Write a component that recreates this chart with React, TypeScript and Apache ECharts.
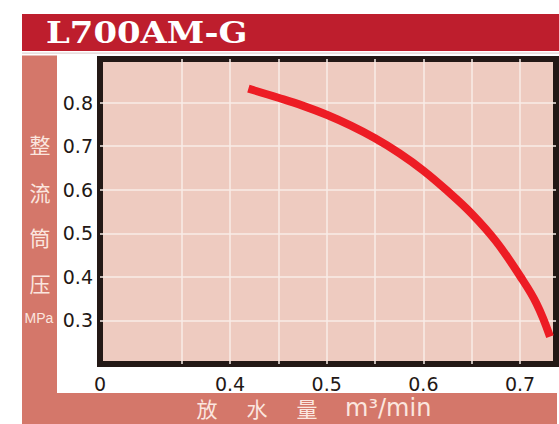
import React, { useEffect, useRef } from "react";
import * as echarts from "echarts";

const titleText = "L700AM-G";
const yAxisChars = ["整", "流", "筒", "压"];
const yAxisUnit = "MPa";
const xAxisChars = ["放", "水", "量"];
const xAxisUnit = "m³/min";

const xMin = 0.2655;
const xMax = 0.7372;
const yMin = 0.2;
const yMax = 0.9;
const xGridValues = [0.35, 0.4, 0.45, 0.5, 0.55, 0.6, 0.65, 0.7];
const xLabelValues = [xMin, 0.4, 0.5, 0.6, 0.7];
const yGridValues = [0.3, 0.4, 0.5, 0.6, 0.7, 0.8];

const flow = [0.419, 0.45, 0.475, 0.5, 0.525, 0.55, 0.575, 0.6, 0.625, 0.65, 0.675, 0.7, 0.717, 0.731];
const pressure = [0.832, 0.811, 0.793, 0.772, 0.747, 0.718, 0.684, 0.644, 0.597, 0.545, 0.482, 0.402, 0.339, 0.263];

const SALMON = "#D4776A";
const TITLE_RED = "#BE1E2D";
const FRAME = "#231815";
const PLOT_BG = "#EECBC0";
const GRID_LINE = "#F9ECE7";
const BAR_TEXT = "#FBE6DF";

export default function App() {
  const ref = useRef<HTMLDivElement>(null);

  useEffect(() => {
    if (!ref.current) return;
    const chart = echarts.init(ref.current, null, { renderer: "svg" });
    const yCharPos = [144, 192, 237, 283];
    const xCharPos = [207, 257, 307];
    const graphics: any[] = [
      {
        type: "rect",
        shape: { x: 22, y: 14, width: 537, height: 37 },
        style: { fill: TITLE_RED },
        z: -10,
      },
      {
        type: "rect",
        shape: { x: 22, y: 52.5, width: 537, height: 1.2 },
        style: { fill: "#E2D2D2" },
        z: -10,
      },
      {
        type: "text",
        x: 46,
        y: 33,
        scaleX: 1.13,
        style: {
          text: titleText,
          fill: "#FFFFFF",
          font: "bold 30px 'DejaVu Serif', 'Liberation Serif', serif",
          textAlign: "left",
          textVerticalAlign: "middle",
        },
      },
      {
        type: "polygon",
        shape: {
          points: [
            [22, 55.5],
            [57, 55.5],
            [57, 393],
            [557, 393],
            [557, 424],
            [22, 424],
          ],
        },
        style: { fill: SALMON },
        z: -10,
      },
      ...yAxisChars.map((c, i) => ({
        type: "text",
        x: 40,
        y: yCharPos[i],
        style: {
          text: c,
          fill: BAR_TEXT,
          font: "21px 'Noto Sans CJK SC', sans-serif",
          textAlign: "center",
          textVerticalAlign: "middle",
        },
      })),
      {
        type: "text",
        x: 39,
        y: 318,
        style: {
          text: yAxisUnit,
          fill: BAR_TEXT,
          font: "14px 'Liberation Sans', sans-serif",
          textAlign: "center",
          textVerticalAlign: "middle",
        },
      },
      ...xAxisChars.map((c, i) => ({
        type: "text",
        x: xCharPos[i],
        y: 408,
        style: {
          text: c,
          fill: BAR_TEXT,
          font: "21px 'Noto Sans CJK SC', sans-serif",
          textAlign: "center",
          textVerticalAlign: "middle",
        },
      })),
      {
        type: "text",
        x: 345,
        y: 408,
        style: {
          text: xAxisUnit,
          fill: BAR_TEXT,
          font: "24px 'DejaVu Sans', sans-serif",
          textAlign: "left",
          textVerticalAlign: "middle",
        },
      },
    ];

    chart.setOption({
      animation: false,
      backgroundColor: "#FFFFFF",
      grid: {
        left: 100,
        right: 3,
        top: 59,
        bottom: 60,
        show: true,
        backgroundColor: PLOT_BG,
        borderColor: FRAME,
        borderWidth: 6,
        containLabel: false,
      },
      xAxis: {
        type: "value",
        min: xMin,
        max: xMax,
        axisLine: { show: false },
        axisTick: { show: false, customValues: xGridValues },
        splitLine: { show: true, lineStyle: { color: GRID_LINE, width: 1.5 } },
        axisLabel: {
          customValues: xLabelValues,
          formatter: (v: number) => (v < 0.3 ? "0" : v.toFixed(1)),
          margin: 10,
          color: FRAME,
          fontSize: 19,
          fontFamily: "'DejaVu Sans', sans-serif",
        },
      },
      yAxis: {
        type: "value",
        min: yMin,
        max: yMax,
        axisLine: { show: false },
        axisTick: { show: false, customValues: yGridValues },
        splitLine: { show: true, lineStyle: { color: GRID_LINE, width: 1.5 } },
        axisLabel: {
          customValues: yGridValues,
          formatter: (v: number) => v.toFixed(1),
          margin: 7,
          color: FRAME,
          fontSize: 19,
          fontFamily: "'DejaVu Sans', sans-serif",
        },
      },
      series: [
        {
          type: "line",
          data: flow.map((x, i) => [x, pressure[i]]),
          smooth: 0.4,
          symbol: "none",
          lineStyle: { color: "#ED1C24", width: 8, cap: "butt" },
          z: 5,
        },
      ],
      graphic: graphics,
    });
    return () => chart.dispose();
  }, []);

  return (
    <div
      ref={ref}
      style={{ position: "fixed", left: 0, top: 0, width: 559, height: 424 }}
    />
  );
}
